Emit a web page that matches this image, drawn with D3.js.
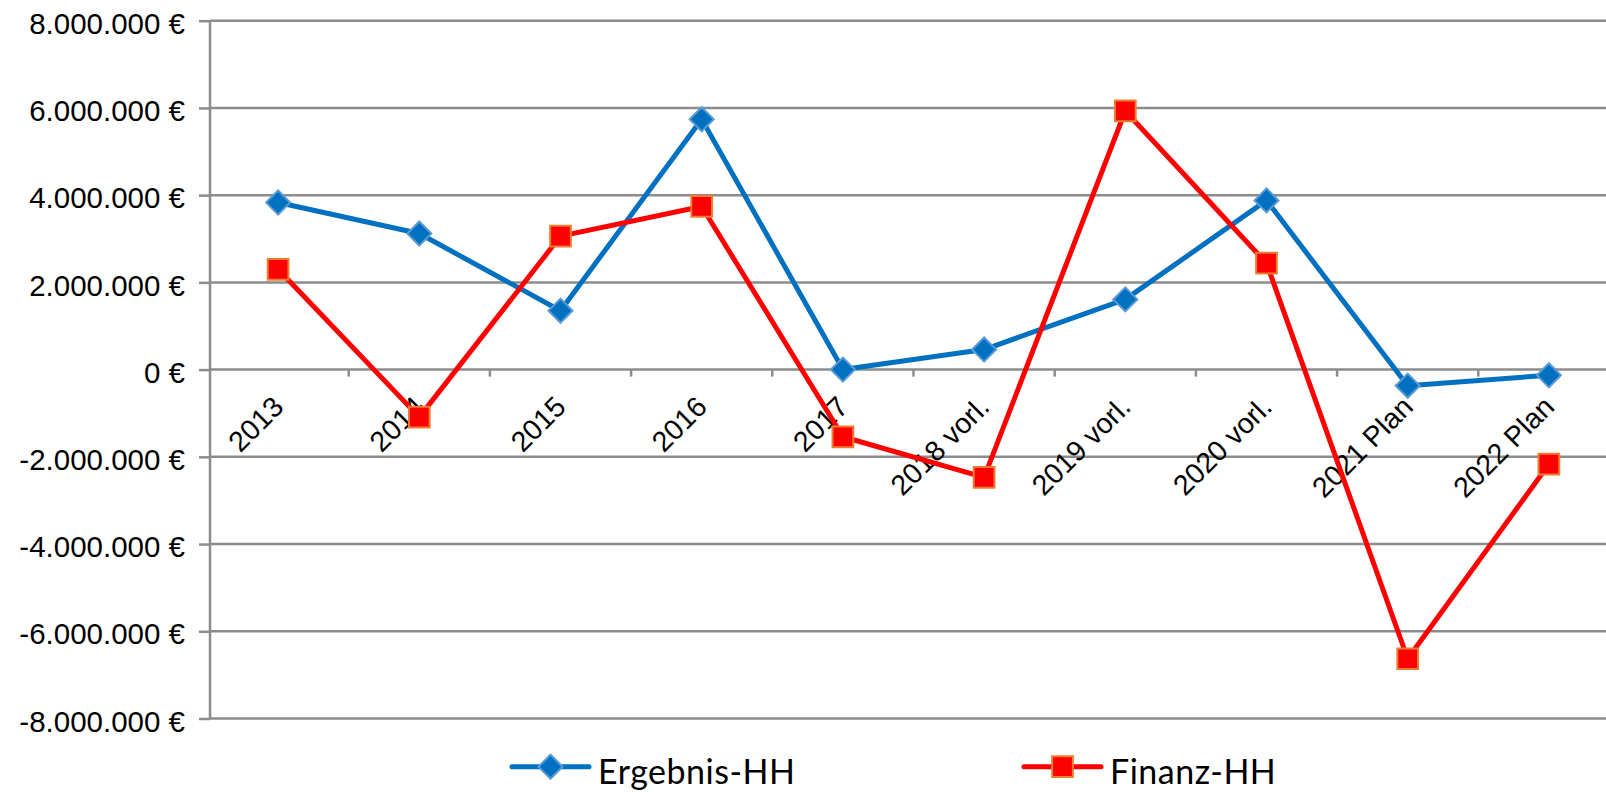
<!DOCTYPE html>
<html>
<head>
<meta charset="utf-8">
<script src="https://cdn.jsdelivr.net/npm/d3@7"></script>
<style>
  body { margin: 0; background: #fff; }
  .axisLabel { font-family: "Liberation Sans", Arial, sans-serif; fill: #000; }
  .legendText { font-family: Lato, "Open Sans", sans-serif; fill: #000; }
</style>
</head>
<body>
<div id="chart"></div>
<script>
// data
const categories = ["2013", "2014", "2015", "2016", "2017", "2018 vorl.", "2019 vorl.", "2020 vorl.", "2021 Plan", "2022 Plan"];
const ergebnisHH = [3830000, 3120000, 1350000, 5740000, 0, 460000, 1610000, 3880000, -370000, -130000];
const finanzHH = [2300000, -1090000, 3060000, 3740000, -1540000, -2470000, 5930000, 2440000, -6630000, -2170000];
const yTicks = [-8000000, -6000000, -4000000, -2000000, 0, 2000000, 4000000, 6000000, 8000000];
const seriesNames = ["Ergebnis-HH", "Finanz-HH"];

const W = 1606, H = 792;
const axisX = 210;
const gridColor = "#8c8c8c";

const svg = d3.select("#chart")
    .append("svg")
    .attr("width", W)
    .attr("height", H);

const de = d3.formatLocale({decimal: ",", thousands: ".", grouping: [3], currency: ["", " €"], minus: "-"});
const fmt = v => de.format(",.0f")(v) + " €";

const x = d3.scaleBand()
    .domain(categories)
    .range([207.5, 1619.5])
    .padding(0);
const cx = d => x(d) + x.bandwidth() / 2;

const y = d3.scaleLinear()
    .domain([-8000000, 8000000])
    .range([718.5, 20.7]);

// horizontal gridlines
svg.selectAll(".grid")
    .data(yTicks)
    .join("line")
    .attr("class", "grid")
    .attr("x1", axisX)
    .attr("x2", W)
    .attr("y1", d => y(d))
    .attr("y2", d => y(d))
    .attr("stroke", gridColor)
    .attr("stroke-width", 2.5);

// y axis with outward ticks
const yAxis = svg.append("g")
    .attr("transform", `translate(${axisX},0)`)
    .call(d3.axisLeft(y).tickValues(yTicks).tickSize(11).tickPadding(14).tickFormat(fmt));
yAxis.select(".domain").attr("stroke", gridColor).attr("stroke-width", 2.5)
    .attr("d", `M0,${y(8000000)}V${y(-8000000)}`);
yAxis.selectAll(".tick line").attr("stroke", gridColor).attr("stroke-width", 2.5);
yAxis.selectAll(".tick text")
    .attr("class", "axisLabel")
    .attr("dy", "0.43em")
    .style("font-size", "29.5px");

// category ticks on the zero line (between categories)
svg.selectAll(".xtick")
    .data(categories.slice(1))
    .join("line")
    .attr("class", "xtick")
    .attr("x1", d => x(d))
    .attr("x2", d => x(d))
    .attr("y1", y(0))
    .attr("y2", y(0) + 7)
    .attr("stroke", gridColor)
    .attr("stroke-width", 2.5);

// rotated category labels
svg.selectAll(".xlabel")
    .data(categories)
    .join("text")
    .attr("class", "axisLabel")
    .attr("text-anchor", "end")
    .attr("transform", d => `translate(${cx(d) + 7},${y(0) + 39}) rotate(-45)`)
    .style("font-size", "28.5px")
    .text(d => d);

// series
const line = d3.line()
    .x((d, i) => cx(categories[i]))
    .y(d => y(d));

const diamond = d3.symbol().type(d3.symbolSquare).size(290);
const square = d3.symbol().type(d3.symbolSquare).size(430);

// Ergebnis-HH
svg.append("path")
    .datum(ergebnisHH)
    .attr("d", line)
    .attr("fill", "none")
    .attr("stroke", "#0070C0")
    .attr("stroke-width", 5)
    .attr("stroke-linejoin", "round");
svg.selectAll(".ergMarker")
    .data(ergebnisHH)
    .join("path")
    .attr("class", "ergMarker")
    .attr("d", diamond)
    .attr("transform", (d, i) => `translate(${cx(categories[i])},${y(d)}) rotate(45)`)
    .attr("fill", "#0070C0")
    .attr("stroke", "#5B9BD5")
    .attr("stroke-width", 2);

// Finanz-HH
svg.append("path")
    .datum(finanzHH)
    .attr("d", line)
    .attr("fill", "none")
    .attr("stroke", "#FF0000")
    .attr("stroke-width", 5)
    .attr("stroke-linejoin", "round");
svg.selectAll(".finMarker")
    .data(finanzHH)
    .join("path")
    .attr("class", "finMarker")
    .attr("d", square)
    .attr("transform", (d, i) => `translate(${cx(categories[i])},${y(d)})`)
    .attr("fill", "#FF0000")
    .attr("stroke", "#ED7D31")
    .attr("stroke-width", 2);

// legend
const legendY = 766.7;
const legend = [
    {name: seriesNames[0], x: 512, color: "#0070C0", sym: diamond, rot: 45, stroke: "#5B9BD5"},
    {name: seriesNames[1], x: 1024, color: "#FF0000", sym: square, rot: 0, stroke: "#ED7D31"}
];
const lg = svg.selectAll(".legend")
    .data(legend)
    .join("g")
    .attr("class", "legend")
    .attr("transform", d => `translate(${d.x},${legendY})`);
lg.append("line")
    .attr("x1", 0).attr("x2", 77)
    .attr("stroke", d => d.color)
    .attr("stroke-width", 5)
    .attr("stroke-linecap", "round");
lg.append("path")
    .attr("d", d => d.sym())
    .attr("transform", d => `translate(38.5,0) rotate(${d.rot})`)
    .attr("fill", d => d.color)
    .attr("stroke", d => d.stroke)
    .attr("stroke-width", 2);
lg.append("text")
    .attr("class", "legendText")
    .attr("x", 86)
    .attr("y", 17)
    .style("font-size", "34px")
    .style("letter-spacing", "0.5px")
    .text(d => d.name);
</script>
</body>
</html>
